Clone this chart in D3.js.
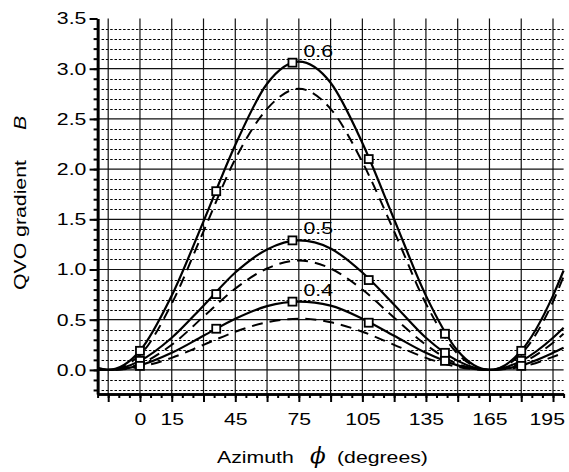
<!DOCTYPE html>
<html>
<head>
<meta charset="utf-8">
<script src="https://cdn.jsdelivr.net/npm/d3@7"></script>
<style>
  body { margin: 0; background: #fff; }
  svg { display: block; font-family: "Liberation Sans", Arial, sans-serif; }
</style>
</head>
<body>
<svg id="chart" width="569" height="472"></svg>
<script>
// azimuth samples (degrees)
const phi = [-20, -15, 0, 15, 30, 45, 60, 75, 90, 105, 120, 135, 150, 165, 180, 195, 200]

// solid curves
const solid06 = [0.02, 0, 0.19, 0.74, 1.48, 2.24, 2.85, 3.07, 2.86, 2.26, 1.50, 0.74, 0.19, 0, 0.19, 0.74, 0.99]
const solid05 = [0.01, 0, 0.09, 0.32, 0.64, 0.97, 1.20, 1.29, 1.21, 0.97, 0.65, 0.32, 0.09, 0, 0.09, 0.32, 0.42]
const solid04 = [0.01, 0, 0.045, 0.17, 0.34, 0.51, 0.635, 0.68, 0.64, 0.51, 0.34, 0.17, 0.045, 0, 0.045, 0.17, 0.22]

// dashed curves
const dashed06 = [0.01, 0, 0.15, 0.66, 1.38, 2.10, 2.60, 2.80, 2.60, 2.07, 1.38, 0.66, 0.16, 0, 0.16, 0.68, 0.93]
const dashed05 = [0, 0, 0.06, 0.25, 0.53, 0.81, 1.01, 1.09, 1.01, 0.80, 0.52, 0.25, 0.06, 0, 0.07, 0.27, 0.36]
const dashed04 = [0, 0, 0.03, 0.12, 0.25, 0.38, 0.475, 0.51, 0.475, 0.38, 0.25, 0.12, 0.03, 0, 0.03, 0.13, 0.17]

// square markers on the solid curves
const markerPhi = [0, 36, 72, 108, 144, 180]
const markers06 = [0.19, 1.78, 3.06, 2.10, 0.36, 0.19]
const markers05 = [0.09, 0.755, 1.29, 0.895, 0.17, 0.09]
const markers04 = [0.04, 0.41, 0.68, 0.47, 0.09, 0.04]

const seriesLabels = ["0.6", "0.5", "0.4"]

// ticks
const xMajor = d3.range(-15, 196, 15)
const xLabels = [0, 15, 45, 75, 105, 135, 165, 195]
const yMajor = [0, 0.5, 1.0, 1.5, 2.0, 2.5, 3.0, 3.5]

const svg = d3.select("#chart")

let x = d3.scaleLinear().domain([-20, 200]).range([97.6, 563.6])
let y = d3.scaleLinear().domain([-0.24, 3.5]).range([394, 18.5])

// the original lettering is stretched along the baseline
let textScale = "scale(1.25,1)"

// grid
let grid = svg.append("g")

let yMinor = d3.range(-2, 35).map(d => d / 10).filter(d => Math.abs(d * 2 - Math.round(d * 2)) > 1e-6)

grid.selectAll("line.minor")
    .data(yMinor)
    .join("line")
    .attr("class", "minor")
    .attr("x1", x(-20) + 4)
    .attr("x2", x(200))
    .attr("y1", d => Math.round(y(d)) + 0.5)
    .attr("y2", d => Math.round(y(d)) + 0.5)
    .attr("stroke", "#000")
    .attr("stroke-width", 1)
    .attr("stroke-dasharray", "2.5,1.8")

grid.selectAll("line.hmajor")
    .data(yMajor.filter(d => d < 3.5))
    .join("line")
    .attr("class", "hmajor")
    .attr("x1", x(-20))
    .attr("x2", x(200))
    .attr("y1", d => y(d))
    .attr("y2", d => y(d))
    .attr("stroke", "#111")
    .attr("stroke-width", 1.2)

grid.selectAll("line.vmajor")
    .data(xMajor)
    .join("line")
    .attr("class", "vmajor")
    .attr("x1", d => x(d))
    .attr("x2", d => x(d))
    .attr("y1", y(3.5))
    .attr("y2", y(-0.24))
    .attr("stroke", "#111")
    .attr("stroke-width", 1.2)

// curves
let line = d3.line()
    .x((d, i) => x(phi[i]))
    .y(d => y(d))
    .curve(d3.curveMonotoneX)

let curves = svg.append("g").attr("fill", "none").attr("stroke", "#000")

curves.selectAll("path.dashed")
    .data([dashed06, dashed05, dashed04])
    .join("path")
    .attr("class", "dashed")
    .attr("d", line)
    .attr("stroke-width", 2)
    .attr("stroke-dasharray", "11,7")

curves.selectAll("path.solid")
    .data([solid06, solid05, solid04])
    .join("path")
    .attr("class", "solid")
    .attr("d", line)
    .attr("stroke-width", 2.2)

// markers
let markerSets = [markers06, markers05, markers04]
let markerSize = 8

markerSets.forEach(vals => {
    svg.append("g").selectAll("rect")
        .data(vals)
        .join("rect")
        .attr("x", (d, i) => x(markerPhi[i]) - markerSize / 2)
        .attr("y", d => y(d) - markerSize / 2)
        .attr("width", markerSize)
        .attr("height", markerSize)
        .attr("fill", "#fff")
        .attr("stroke", "#000")
        .attr("stroke-width", 1.8)
})

// curve labels next to the peak markers
svg.append("g").selectAll("text")
    .data(seriesLabels)
    .join("text")
    .attr("transform", (d, i) => `translate(${x(72) + 11},${y(markerSets[i][2]) - 6}) ${textScale}`)
    .attr("font-size", 17)
    .text(d => d)

// axes
let xAxisMinor = d3.axisBottom(x).tickValues(d3.range(-20, 201, 5)).tickSize(4).tickSizeOuter(0).tickFormat("")
let xAxisMajor = d3.axisBottom(x).tickValues(xMajor).tickSize(8).tickSizeOuter(0)
    .tickFormat(d => xLabels.includes(d) ? d : "")

let yAxisMinor = d3.axisLeft(y).tickValues(d3.range(-2, 35).map(d => d / 10)).tickSize(4).tickSizeOuter(0).tickFormat("")
let yAxisMajor = d3.axisLeft(y).tickValues(yMajor).tickSize(8).tickSizeOuter(0).tickFormat(d3.format(".1f"))

function styleAxis(g) {
    g.select(".domain").attr("stroke-width", 2.6)
    g.selectAll(".tick line").attr("stroke-width", 2)
    g.selectAll("text").attr("font-size", 17).attr("fill", "#000")
        .attr("font-family", "'Liberation Sans', Arial, sans-serif")
}

let gx = svg.append("g").attr("transform", `translate(0,${y(-0.24)})`)
gx.call(xAxisMinor).call(styleAxis)
gx.append("g").call(xAxisMajor).call(styleAxis)
gx.selectAll("text")
    .attr("y", 31)
    .attr("dy", 0)
    .attr("x", d => d === 195 ? -5 : 0)
    .attr("transform", textScale)

let gy = svg.append("g").attr("transform", `translate(${x(-20)},0)`)
gy.call(yAxisMinor).call(styleAxis)
gy.append("g").call(yAxisMajor).call(styleAxis)
gy.selectAll("text")
    .attr("x", -9)
    .attr("transform", textScale)

// axis titles
svg.append("text")
    .attr("transform", `translate(217,463) ${textScale}`)
    .attr("font-size", 17)
    .text("Azimuth")

svg.append("text")
    .attr("x", 310)
    .attr("y", 463)
    .attr("font-family", "'DejaVu Serif', 'Liberation Serif', serif")
    .attr("font-style", "italic")
    .attr("font-size", 23)
    .text("ϕ")

svg.append("text")
    .attr("transform", `translate(337,463) ${textScale}`)
    .attr("font-size", 17)
    .text("(degrees)")

svg.append("text")
    .attr("transform", `translate(26,290) rotate(-90) ${textScale}`)
    .attr("font-size", 17)
    .text("QVO gradient")

svg.append("text")
    .attr("transform", `translate(26,130) rotate(-90) ${textScale}`)
    .attr("font-size", 17)
    .attr("font-style", "italic")
    .text("B")
</script>
</body>
</html>
